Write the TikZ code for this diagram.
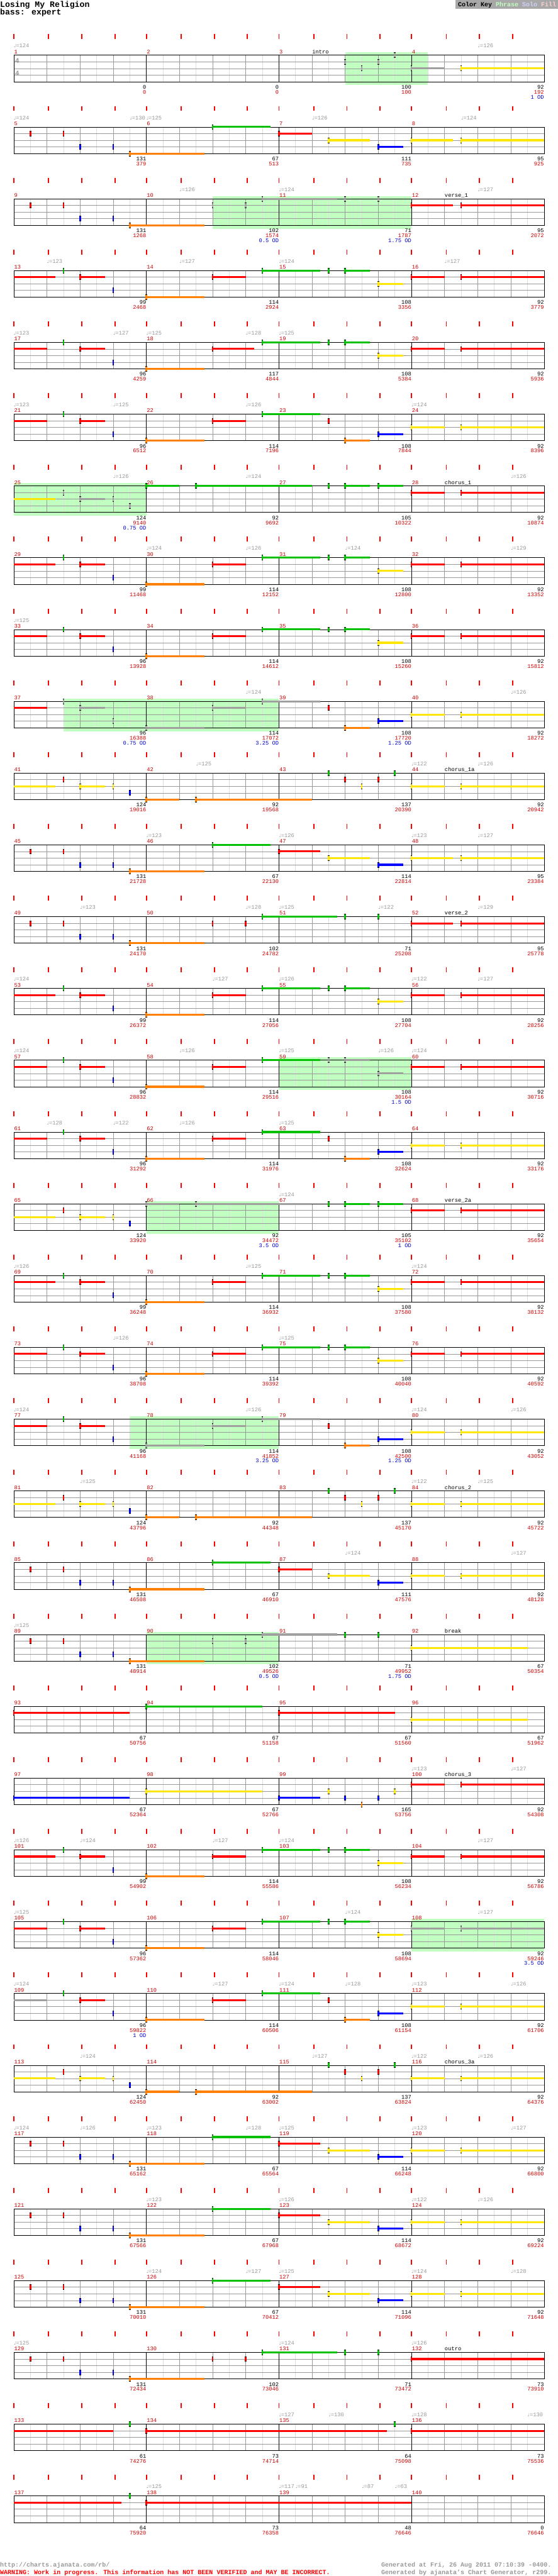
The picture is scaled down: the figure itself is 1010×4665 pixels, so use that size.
\documentclass[tikz,border=0pt]{standalone}
\usepackage{fontspec}
\setmainfont{Liberation Mono}
\newfontfamily\symf{DejaVu Sans}
\definecolor{cG}{HTML}{00C000}
\definecolor{cR}{HTML}{FF0000}
\definecolor{cY}{HTML}{FFE600}
\definecolor{cB}{HTML}{0000FF}
\definecolor{cO}{HTML}{FF8000}
\definecolor{cS}{HTML}{A0A0A0}
\definecolor{phr}{HTML}{C0FFC0}
\definecolor{lgr}{HTML}{DDDDDD}
\definecolor{mgr}{HTML}{999999}
\definecolor{dred}{HTML}{CC0000}
\definecolor{tgray}{HTML}{999999}
\definecolor{odb}{HTML}{0000CC}
\definecolor{keyg}{HTML}{A8A8A8}
\definecolor{solo}{HTML}{D0D0FF}
\definecolor{fillc}{HTML}{FFD0D0}
\newcommand\gem[3]{%
 \fill[#3] ({25+60*(#2)-1.5},{100+12*(#1)-5}) rectangle ({25+60*(#2)+1.5},{100+12*(#1)+5});
 \fill[black] ({25+60*(#2)-1.5},{100+12*(#1)-5}) rectangle ({25+60*(#2)+1.5},{100+12*(#1)-4});
 \fill[black] ({25+60*(#2)-1.5},{100+12*(#1)+4}) rectangle ({25+60*(#2)+1.5},{100+12*(#1)+5});}
\newcommand\sus[4]{\draw[#4,line width=3.5pt] ({25+60*(#2)},{100+12*(#1)}) -- ({25+60*(#3)},{100+12*(#1)});\gem{#1}{#2}{#4}}
\newcommand\cont[3]{\draw[#3,line width=3.5pt] (25,{100+12*(#1)}) -- ({25+60*(#2)},{100+12*(#1)});}
\newcommand\phrase[2]{\fill[phr] ({25+60*(#1)},95) rectangle ({25+60*(#2)},154);}
\newcommand\staff[1]{%
 \foreach \tx in {25,88,148,208,265,328,388,448,505,568,628,688,745,808,868,928} \draw[cR, line width=2pt] (\tx,62) -- (\tx,71);
 \foreach \bb in {0.5,1.5,...,15.5} \draw[lgr, line width=0.8pt] ({25+60*\bb},100) -- ({25+60*\bb},148);
 \foreach \bb in {1,2,3,5,6,7,9,10,11,13,14,15} \draw[mgr, line width=0.8pt] ({25+60*\bb},100) -- ({25+60*\bb},148);
 \foreach \yy in {112,124,136} \draw[mgr, line width=0.8pt] (25,\yy) -- (985,\yy);
 \foreach \xx in {265,505,745} \draw[black, line width=0.8pt] (\xx,100) -- (\xx,148);
 \draw[black, line width=0.8pt] (25,100) rectangle (985,148);
 \node[mnum] at (25.5,97) {#1};
 \node[mnum] at (265.5,97) {\the\numexpr#1+1\relax};
 \node[mnum] at (505.5,97) {\the\numexpr#1+2\relax};
 \node[mnum] at (745.5,97) {\the\numexpr#1+3\relax};}
\newcommand\scores[8]{%
 \node[snb] at (265,161){#1};\node[snr] at (265,170){#2};
 \node[snb] at (505,161){#3};\node[snr] at (505,170){#4};
 \node[snb] at (745,161){#5};\node[snr] at (745,170){#6};
 \node[snb] at (985,161){#7};\node[snr] at (985,170){#8};}
\newcommand\od[2]{\node[sno] at (#1,179){#2};}
\newcommand\tp[2]{\node[tmp] at ({25+60*(#1)},86.5){{\symf\fontsize{8}{8}\selectfont ♩}=#2};}
\newcommand\sect[2]{\node[sec] at ({25+60*(#1)},97){#2};}
\newcommand\halfA[2]{\cont{1}{#1}{cR}\gem{0}{1.5}{cG}\sus{1}{2}{2.75}{cR}\gem{3}{3}{cB}\sus{4}{4}{5.75}{cO}\sus{1}{6}{#2}{cR}\sus{0}{7.5}{9.25}{cG}}
\newcommand\tailGY{\gem{0}{9.5}{cG}\sus{0}{10}{10.75}{cG}\sus{2}{11}{11.75}{cY}\sus{1}{12}{13}{cR}\sus{1}{13.5}{16}{cR}}
\newcommand\tailRO{\gem{1}{9.5}{cR}\sus{4}{10}{10.75}{cO}\sus{3}{11}{11.75}{cB}\sus{2}{12}{13}{cY}\sus{2}{13.5}{16}{cY}}
\newcommand\introA{\gem{1}{0.5}{cR}\gem{1}{1.5}{cR}\gem{3}{2}{cB}\gem{3}{3}{cB}\sus{4}{3.5}{5.75}{cO}}
\newcommand\riffB[1]{\introA\sus{0}{6}{7.75}{cG}\sus{1}{8}{#1}{cR}\sus{2}{9.5}{10.75}{cY}\sus{3}{11}{11.75}{cB}}
\newcommand\chor{\cont{2}{1.25}{cY}\gem{1}{1.5}{cR}\sus{2}{2}{2.75}{cY}\gem{2}{3}{cY}\gem{3}{3.5}{cB}\sus{4}{4}{5}{cO}\sus{4}{5.5}{9}{cO}\gem{0}{9.5}{cG}\gem{1}{10}{cR}\gem{2}{10.5}{cY}\gem{1}{11}{cR}\gem{0}{11.5}{cG}\sus{2}{12}{13}{cY}\sus{2}{13.5}{16}{cY}}
\begin{document}
\begin{tikzpicture}[x=1pt,y=-1pt,
  rowsh/.style={shift={(0,{130*#1})}},
  mnum/.style={anchor=base west,inner sep=0,text=dred,font=\fontsize{10}{12}\selectfont},
  tmp/.style={anchor=base west,inner sep=0,text=tgray,font=\fontsize{10}{12}\selectfont},
  sec/.style={anchor=base west,inner sep=0,text=black,font=\fontsize{10}{12}\selectfont},
  snb/.style={anchor=base east,inner sep=0,text=black,font=\fontsize{10}{12}\selectfont},
  snr/.style={anchor=base east,inner sep=0,text=dred,font=\fontsize{10}{12}\selectfont},
  sno/.style={anchor=base east,inner sep=0,text=odb,font=\fontsize{10}{12}\selectfont},
  ts/.style={inner sep=0,text=tgray,font=\fontsize{13}{13}\selectfont\bfseries},
  foot/.style={anchor=base west,inner sep=0,font=\fontsize{11.4}{12}\selectfont\bfseries}]
\useasboundingbox (0,0) rectangle (1010,4665);
\fill[white] (0,0) rectangle (1010,4665);
% header
\node[anchor=base west,inner sep=0,font=\fontsize{15}{16}\selectfont\bfseries] (title) at (0,12.7) {Losing My Religion};
\node[anchor=base west,inner sep=0,font=\fontsize{15}{16}\selectfont\bfseries] (inst) at (0,26.5) {bass: expert};
\fill[keyg] (825,0) rectangle (1010,16);
\node[foot] (key) at (829,11.5) {Color Key \textcolor{phr}{Phrase} \textcolor{solo}{Solo} \textcolor{fillc}{Fill}};
% row 0
\begin{scope}[rowsh=0]
\phrase{10}{12.5}
\staff{1}
\node[ts] at (31,110.5){4}; \node[ts] at (31,133){4};
\gem{1}{10}{cS}\gem{2}{10.5}{cS}\gem{1}{11}{cS}\gem{0}{11.5}{cS}\sus{2}{12}{13}{cS}\sus{2}{13.5}{16}{cY}
\tp{0}{124}\tp{14}{126}\sect{9}{intro}
\scores{0}{0}{0}{0}{100}{100}{92}{192}\od{985}{1 OD}
\end{scope}
% row 1
\begin{scope}[rowsh=1]
\staff{5}
\riffB{9}\sus{2}{12}{13.25}{cY}\sus{2}{13.5}{16}{cY}
\tp{0}{124}\tp{3.5}{130}\tp{4}{125}\tp{9}{126}\tp{13.5}{124}
\scores{131}{379}{67}{513}{111}{735}{95}{925}
\end{scope}
% row 2
\begin{scope}[rowsh=2]
\phrase{6}{12}
\staff{9}
\introA\gem{1}{6}{cS}\gem{1}{7}{cS}\sus{0}{7.5}{9.75}{cS}\gem{0}{10}{cS}\gem{0}{11}{cS}\sus{1}{12}{13.25}{cR}\sus{1}{13.5}{16}{cR}
\tp{5}{126}\tp{8}{124}\tp{14}{127}\sect{13}{verse\_1}
\scores{131}{1268}{102}{1574}{71}{1787}{95}{2072}\od{505}{0.5 OD}\od{745}{1.75 OD}
\end{scope}
% row 3
\begin{scope}[rowsh=3]
\staff{13}
\halfA{1.25}{7}\tailGY
\tp{1}{123}\tp{5}{127}\tp{8}{124}\tp{13}{127}
\scores{99}{2468}{114}{2924}{108}{3356}{92}{3779}
\end{scope}
% row 4
\begin{scope}[rowsh=4]
\staff{17}
\halfA{1}{7.25}\tailGY
\tp{0}{123}\tp{3}{127}\tp{4}{125}\tp{7}{128}\tp{8}{125}
\scores{96}{4259}{117}{4844}{108}{5384}{92}{5936}
\end{scope}
% row 5
\begin{scope}[rowsh=5]
\staff{21}
\halfA{1}{7}\tailRO
\tp{0}{123}\tp{3}{125}\tp{7}{126}\tp{12}{124}
\scores{96}{6512}{114}{7196}{108}{7844}{92}{8396}
\end{scope}
% row 6
\begin{scope}[rowsh=6]
\phrase{0}{4}
\staff{25}
\cont{2}{1.25}{cY}\gem{1}{1.5}{cS}\sus{2}{2}{2.75}{cS}\gem{2}{3}{cS}\gem{3}{3.5}{cS}\sus{0}{4}{5}{cG}\sus{0}{5.5}{9}{cG}\gem{0}{9.5}{cG}\sus{0}{10}{10.75}{cG}\sus{0}{11}{11.75}{cG}\sus{1}{12}{13}{cR}\sus{1}{13.5}{16}{cR}
\tp{3}{126}\tp{7}{124}\tp{15}{126}\sect{13}{chorus\_1}
\scores{124}{9140}{92}{9692}{105}{10322}{92}{10874}\od{265}{0.75 OD}
\end{scope}
% row 7
\begin{scope}[rowsh=7]
\staff{29}
\halfA{1.25}{7}\tailGY
\tp{4}{124}\tp{7}{126}\tp{10}{124}\tp{15}{129}
\scores{99}{11468}{114}{12152}{108}{12800}{92}{13352}
\end{scope}
% row 8
\begin{scope}[rowsh=8]
\staff{33}
\halfA{1}{7}\tailGY
\tp{0}{125}
\scores{96}{13928}{114}{14612}{108}{15260}{92}{15812}
\end{scope}
% row 9
\begin{scope}[rowsh=9]
\phrase{1.5}{8}
\staff{37}
\cont{1}{1}{cR}\gem{0}{1.5}{cS}\sus{1}{2}{2.75}{cS}\gem{3}{3}{cS}\sus{4}{4}{5.75}{cS}\sus{1}{6}{7}{cS}\sus{0}{7.5}{9.25}{cS}\tailRO
\tp{7}{124}\tp{15}{126}
\scores{96}{16388}{114}{17072}{108}{17720}{92}{18272}\od{265}{0.75 OD}\od{505}{3.25 OD}\od{745}{1.25 OD}
\end{scope}
% row 10
\begin{scope}[rowsh=10]
\staff{41}
\chor
\tp{5.5}{125}\tp{12}{122}\tp{14}{126}\sect{13}{chorus\_1a}
\scores{124}{19016}{92}{19568}{137}{20390}{92}{20942}
\end{scope}
% row 11
\begin{scope}[rowsh=11]
\staff{45}
\riffB{9.25}\sus{2}{12}{13.25}{cY}\sus{2}{13.5}{16}{cY}
\tp{4}{123}\tp{8}{126}\tp{12}{123}\tp{14}{127}
\scores{131}{21728}{67}{22130}{114}{22814}{95}{23384}
\end{scope}
% row 12
\begin{scope}[rowsh=12]
\staff{49}
\introA\gem{1}{6}{cR}\gem{1}{7}{cR}\sus{0}{7.5}{9.75}{cG}\gem{0}{10}{cG}\gem{0}{11}{cG}\sus{1}{12}{13.25}{cR}\sus{1}{13.5}{16}{cR}
\tp{2}{123}\tp{7}{128}\tp{8}{125}\tp{11}{122}\tp{14}{129}\sect{13}{verse\_2}
\scores{131}{24170}{102}{24782}{71}{25208}{95}{25778}
\end{scope}
% row 13
\begin{scope}[rowsh=13]
\staff{53}
\halfA{1.25}{7}\tailGY
\tp{0}{124}\tp{6}{127}\tp{8}{126}\tp{12}{122}\tp{14}{127}
\scores{99}{26372}{114}{27056}{108}{27704}{92}{28256}
\end{scope}
% row 14
\begin{scope}[rowsh=14]
\phrase{8}{12}
\staff{57}
\halfA{1}{7}\gem{0}{9.5}{cS}\sus{0}{10}{10.75}{cS}\sus{2}{11}{11.75}{cS}\sus{1}{12}{13}{cR}\sus{1}{13.5}{16}{cR}
\tp{0}{124}\tp{5}{126}\tp{8}{125}\tp{11}{126}\tp{12}{124}
\scores{96}{28832}{114}{29516}{108}{30164}{92}{30716}\od{745}{1.5 OD}
\end{scope}
% row 15
\begin{scope}[rowsh=15]
\staff{61}
\halfA{1}{7}\tailRO
\tp{1}{128}\tp{3}{122}\tp{5}{126}\tp{8}{125}
\scores{96}{31292}{114}{31976}{108}{32624}{92}{33176}
\end{scope}
% row 16
\begin{scope}[rowsh=16]
\phrase{4}{8}
\staff{65}
\cont{2}{1.25}{cY}\gem{1}{1.5}{cR}\sus{2}{2}{2.75}{cY}\gem{2}{3}{cY}\gem{3}{3.5}{cB}\sus{0}{4}{5}{cS}\sus{0}{5.5}{9}{cS}\gem{0}{9.5}{cG}\sus{0}{10}{10.75}{cG}\sus{0}{11}{11.75}{cG}\sus{1}{12}{13}{cR}\sus{1}{13.5}{16}{cR}
\tp{8}{124}\sect{13}{verse\_2a}
\scores{124}{33920}{92}{34472}{105}{35102}{92}{35654}\od{505}{3.5 OD}\od{745}{1 OD}
\end{scope}
% row 17
\begin{scope}[rowsh=17]
\staff{69}
\halfA{1.25}{7}\tailGY
\tp{0}{126}\tp{7}{125}\tp{12}{124}
\scores{99}{36248}{114}{36932}{108}{37580}{92}{38132}
\end{scope}
% row 18
\begin{scope}[rowsh=18]
\staff{73}
\halfA{1}{7}\tailGY
\tp{3}{126}\tp{8}{125}
\scores{96}{38708}{114}{39392}{108}{40040}{92}{40592}
\end{scope}
% row 19
\begin{scope}[rowsh=19]
\phrase{3.5}{8}
\staff{77}
\cont{1}{1}{cR}\gem{0}{1.5}{cG}\sus{1}{2}{2.75}{cR}\gem{3}{3}{cB}\sus{4}{4}{5.75}{cS}\sus{1}{6}{7}{cS}\sus{0}{7.5}{9.25}{cS}\tailRO
\tp{0}{124}\tp{7}{126}\tp{12}{124}\tp{15}{126}
\scores{96}{41168}{114}{41852}{108}{42500}{92}{43052}\od{505}{3.25 OD}\od{745}{1.25 OD}
\end{scope}
% row 20
\begin{scope}[rowsh=20]
\staff{81}
\chor
\tp{2}{125}\tp{12}{122}\tp{14}{125}\sect{13}{chorus\_2}
\scores{124}{43796}{92}{44348}{137}{45170}{92}{45722}
\end{scope}
% row 21
\begin{scope}[rowsh=21]
\staff{85}
\riffB{9}\sus{2}{12}{13}{cY}\sus{2}{13.5}{16}{cY}
\tp{10}{124}\tp{15}{127}
\scores{131}{46508}{67}{46910}{111}{47576}{92}{48128}
\end{scope}
% row 22
\begin{scope}[rowsh=22]
\phrase{4}{8}
\staff{89}
\introA\gem{1}{6}{cS}\gem{1}{7}{cS}\sus{0}{7.5}{9.75}{cS}\gem{0}{10}{cG}\gem{0}{11}{cG}\sus{2}{12}{15.5}{cY}
\tp{0}{125}\sect{13}{break}
\scores{131}{48914}{102}{49526}{71}{49952}{67}{50354}\od{505}{0.5 OD}\od{745}{1.75 OD}
\end{scope}
% row 23
\begin{scope}[rowsh=23]
\staff{93}
\sus{1}{0}{3.5}{cR}\sus{0}{4}{7.5}{cG}\sus{1}{8}{11.5}{cR}\sus{2}{12}{15.5}{cY}
\scores{67}{50756}{67}{51158}{67}{51560}{67}{51962}
\end{scope}
% row 24
\begin{scope}[rowsh=24]
\staff{97}
\sus{3}{0}{3.5}{cB}\sus{2}{4}{7.5}{cY}\sus{3}{8}{9.25}{cB}\gem{2}{9.5}{cY}\gem{3}{10}{cB}\gem{4}{10.5}{cO}\gem{3}{11}{cB}\gem{2}{11.5}{cY}\sus{1}{12}{13}{cR}\sus{1}{13.5}{16}{cR}
\tp{12}{123}\tp{15}{127}\sect{13}{chorus\_3}
\scores{67}{52364}{67}{52766}{165}{53756}{92}{54308}
\end{scope}
% row 25
\begin{scope}[rowsh=25]
\staff{101}
\halfA{1.25}{7}\tailGY
\tp{0}{126}\tp{2}{124}\tp{6}{127}\tp{8}{124}\tp{14}{127}
\scores{99}{54902}{114}{55586}{108}{56234}{92}{56786}
\end{scope}
% row 26
\begin{scope}[rowsh=26]
\phrase{12}{16}
\staff{105}
\halfA{1}{7}\gem{0}{9.5}{cG}\sus{0}{10}{10.75}{cG}\sus{2}{11}{11.75}{cY}\sus{1}{12}{13}{cS}\sus{1}{13.5}{16}{cS}
\tp{0}{125}\tp{10}{124}\tp{14}{127}
\scores{96}{57362}{114}{58046}{108}{58694}{92}{59246}\od{985}{3.5 OD}
\end{scope}
% row 27
\begin{scope}[rowsh=27]
\staff{109}
\cont{1}{1}{cS}\gem{0}{1.5}{cG}\sus{1}{2}{2.75}{cR}\gem{3}{3}{cB}\sus{4}{4}{5.75}{cO}\sus{1}{6}{7}{cR}\sus{0}{7.5}{9.25}{cG}\tailRO
\tp{0}{124}\tp{6}{127}\tp{8}{124}\tp{10}{128}\tp{12}{123}\tp{15}{126}
\scores{96}{59822}{114}{60506}{108}{61154}{92}{61706}\od{265}{1 OD}
\end{scope}
% row 28
\begin{scope}[rowsh=28]
\staff{113}
\chor
\tp{2}{124}\tp{9}{127}\tp{12}{122}\tp{14}{126}\sect{13}{chorus\_3a}
\scores{124}{62450}{92}{63002}{137}{63824}{92}{64376}
\end{scope}
% row 29
\begin{scope}[rowsh=29]
\staff{117}
\riffB{9.25}\sus{2}{12}{13}{cY}\sus{2}{13.5}{16}{cY}
\tp{0}{124}\tp{2}{126}\tp{4}{123}\tp{7}{128}\tp{8}{125}\tp{12}{123}\tp{15}{127}
\scores{131}{65162}{67}{65564}{114}{66248}{92}{66800}
\end{scope}
% row 30
\begin{scope}[rowsh=30]
\staff{121}
\riffB{9.25}\sus{2}{12}{13}{cY}\sus{2}{13.5}{16}{cY}
\tp{4}{123}\tp{8}{126}\tp{12}{122}\tp{14}{126}
\scores{131}{67566}{67}{67968}{114}{68672}{92}{69224}
\end{scope}
% row 31
\begin{scope}[rowsh=31]
\staff{125}
\riffB{9.25}\sus{2}{12}{13}{cY}\sus{2}{13.5}{16}{cY}
\tp{4}{124}\tp{7}{127}\tp{8}{125}\tp{12}{124}\tp{15}{128}
\scores{131}{70010}{67}{70412}{114}{71096}{92}{71648}
\end{scope}
% row 32
\begin{scope}[rowsh=32]
\staff{129}
\introA\gem{1}{6}{cR}\gem{1}{7}{cR}\sus{0}{7.5}{9.75}{cG}\gem{0}{10}{cG}\gem{0}{11}{cG}\sus{1}{12}{16}{cR}
\tp{0}{125}\tp{8}{124}\tp{12}{126}\sect{13}{outro}
\scores{131}{72434}{102}{73046}{71}{73472}{73}{73910}
\end{scope}
% row 33
\begin{scope}[rowsh=33]
\staff{133}
\cont{1}{3}{cR}\gem{0}{3.5}{cG}\sus{1}{4}{11.25}{cR}\gem{0}{11.5}{cG}\sus{1}{12}{16}{cR}
\tp{8}{127}\tp{9.5}{130}\tp{12}{128}\tp{15.5}{130}
\scores{61}{74276}{73}{74714}{64}{75098}{73}{75536}
\end{scope}
% row 34
\begin{scope}[rowsh=34]
\staff{137}
\cont{1}{3.25}{cR}\gem{0}{3.5}{cG}\sus{1}{4}{12}{cR}
\tp{4}{125}\tp{8}{117}\tp{8.5}{91}\tp{10.5}{87}\tp{11.5}{63}
\scores{64}{75920}{73}{76358}{48}{76646}{0}{76646}
\end{scope}
% footer
\node[foot,text=tgray] (url) at (0,4648) {http://charts.ajanata.com/rb/};
\node[foot,text=cR] (warn) at (0,4662) {WARNING: Work in progress. This information has NOT BEEN VERIFIED and MAY BE INCORRECT.};
\node[foot,text=tgray] (gen1) at (690,4648) {Generated at Fri, 26 Aug 2011 07:10:39 -0400.};
\node[foot,text=tgray] (gen2) at (690,4662) {Generated by ajanata's Chart Generator, r299.};
\end{tikzpicture}
\end{document}
